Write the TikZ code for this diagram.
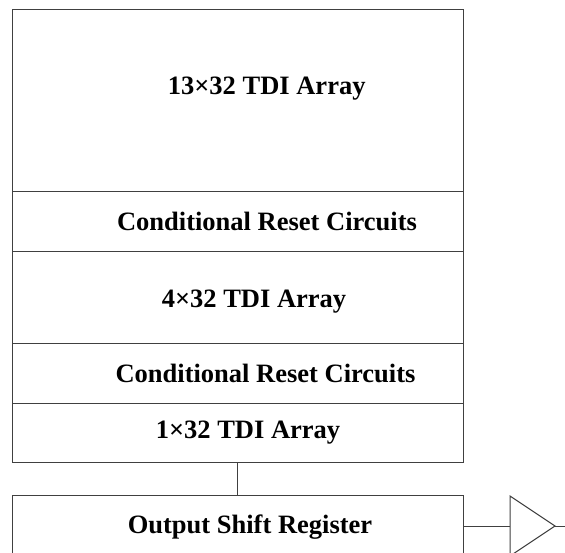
\documentclass[tikz,border=0pt]{standalone}
\usepackage{fontspec}
\setmainfont{Liberation Serif}
\begin{document}
\begin{tikzpicture}[x=1pt,y=-1pt,
  blk/.style={draw=black!75, line width=1pt, rectangle, inner sep=0pt, minimum width=451pt},
  lbl/.style={inner sep=0pt, anchor=base, font=\fontsize{26.5}{30}\selectfont\bfseries},
  wire/.style={draw=black!75, line width=1pt}]
\clip (0,0) rectangle (565,552);
\fill[white] (0,0) rectangle (565,552);
% blocks
\node[blk, minimum height=182pt] (b1) at (237.5,100) {};
\node[blk, minimum height=60pt] (b2) at (237.5,221) {};
\node[blk, minimum height=92pt] (b3) at (237.5,297) {};
\node[blk, minimum height=60pt] (b4) at (237.5,373) {};
\node[blk, minimum height=59pt] (b5) at (237.5,432.5) {};
\node[blk, minimum height=62pt] (osr) at (237.5,526) {};
% labels
\node[lbl] (t1) at (266.7,94.3) {13×32 TDI Array};
\node[lbl] (t2) at (267,230) {Conditional Reset Circuits};
\node[lbl] (t3) at (254,307.7) {4×32 TDI Array};
\node[lbl] (t4) at (265.5,382.7) {Conditional Reset Circuits};
\node[lbl] (t5) at (248,438.3) {1×32 TDI Array};
\node[lbl] (t6) at (250,533.3) {Output Shift Register};
% amplifier
\coordinate (ampin) at (510,526);
\coordinate (amptop) at (510,496);
\coordinate (ampbot) at (510,556);
\coordinate (ampout) at (555,526);
\coordinate (outend) at (570,526);
\draw[wire, line join=miter] (amptop) -- (ampout) -- (ampbot) -- cycle;
% connectors
\draw[wire] (b5.south) -- (osr.north);
\draw[wire] (osr.east) -- (ampin);
\draw[wire] (ampout) -- (outend);
\end{tikzpicture}
\end{document}
